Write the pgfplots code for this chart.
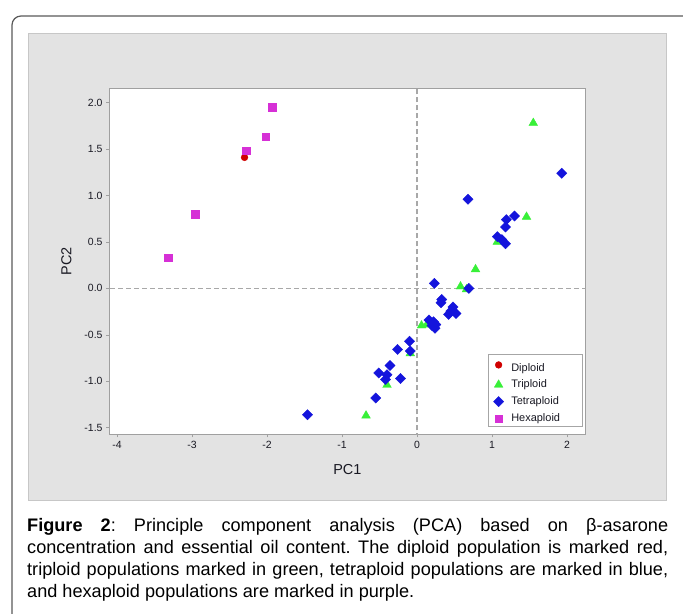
\documentclass[border=0pt]{standalone}
\usepackage{pgfplots}
\pgfplotsset{compat=1.18}
\usepackage{fontspec}
\setmainfont{Liberation Sans}
\definecolor{dipred}{RGB}{208,0,0}
\definecolor{trigreen}{RGB}{56,240,56}
\definecolor{tetblue}{RGB}{20,20,220}
\definecolor{hexmag}{RGB}{214,48,214}
\definecolor{panelgray}{RGB}{227,227,227}
\definecolor{axgray}{RGB}{160,160,160}
\definecolor{dashgray}{RGB}{168,168,168}
\definecolor{ticktext}{RGB}{25,25,35}
\pgfplotstableread{
x y
-2.30 1.41
}\diploid
\pgfplotstableread{
x y
1.55 1.78
1.46 0.77
1.07 0.50
0.78 0.205
0.58 0.02
0.66 -0.01
0.06 -0.40
0.13 -0.39
-0.09 -0.70
-0.40 -1.04
-0.68 -1.37
}\triploid
\pgfplotstableread{
x y
1.93 1.24
0.68 0.96
1.30 0.78
1.19 0.74
1.18 0.66
1.07 0.557
1.13 0.525
1.18 0.48
0.23 0.054
0.69 0.0
0.33 -0.12
0.32 -0.154
0.48 -0.20
0.45 -0.245
0.52 -0.27
0.42 -0.28
0.16 -0.34
0.22 -0.36
0.25 -0.39
0.24 -0.43
0.20 -0.40
-0.10 -0.57
-0.26 -0.657
-0.09 -0.675
-0.36 -0.83
-0.51 -0.91
-0.40 -0.93
-0.42 -0.98
-0.22 -0.97
-0.55 -1.18
-1.46 -1.36
}\tetraploid
\pgfplotstableread{
x y
-1.93 1.95
-2.02 1.63
-2.28 1.48
-2.96 0.80
-3.32 0.33
}\hexaploid
\newcommand{\lgt}[1]{\makebox[64bp][l]{#1}}
\begin{document}
\begin{tikzpicture}[x=1bp,y=1bp]
\useasboundingbox (0,0) rectangle (683,614);
\begin{scope}
\clip (0,0) rectangle (683,614);
\draw[line width=1.2bp, black!65, rounded corners=9bp] (12,-20) -- (12,598) -- (720,598);
\end{scope}
\filldraw[fill=panelgray, draw=black!22, line width=0.8bp] (28,114) rectangle (666,581);
\begin{axis}[
  at={(109bp,179.5bp)}, anchor=south west,
  scale only axis, width=476.7bp, height=346bp,
  xmin=-4.107, xmax=2.249, ymin=-1.573, ymax=2.152,
  axis background/.style={fill=white},
  axis line style={axgray, line width=0.9bp},
  tick pos=left, tick align=outside, major tick length=3bp,
  tick style={axgray, line width=0.6bp},
  xtick={-4,-3,-2,-1,0,1,2},
  ytick={-1.5,-1,-0.5,0,0.5,1,1.5,2},
  /pgf/number format/assume math mode=true,
  yticklabel style={/pgf/number format/.cd, fixed, fixed zerofill, precision=1},
  tick label style={font=\fontsize{10.5}{10.5}\selectfont, text=ticktext},
  xlabel={PC1}, ylabel={PC2},
  xlabel style={at={(axis description cs:0.5,-0.101)}, anchor=center, font=\fontsize{14.5}{14.5}\selectfont, text=ticktext},
  ylabel style={at={(axis description cs:-0.0896,0.5)}, anchor=center, rotate=0, font=\fontsize{14.5}{14.5}\selectfont, text=ticktext},
  legend style={at={(0.9933,0.0236)}, anchor=south east, draw=black!35, fill=white,
    font=\fontsize{11}{11}\selectfont, text=ticktext, row sep=3.4bp, inner xsep=5bp, inner ysep=1bp},
  legend cell align=left,
  legend image code/.code={\path (0bp,0bp) (16bp,0bp); \draw[#1] plot coordinates {(5.5bp,0bp)};},
  clip=true,
]
\addplot[dashgray, dash pattern=on 5bp off 3bp, line width=1.3bp, forget plot] coordinates {(0,-1.7) (0,2.3)};
\addplot[dashgray, dash pattern=on 5bp off 3bp, line width=1.3bp, forget plot] coordinates {(-4.2,0) (2.3,0)};
\addplot[only marks, mark=*, mark size=3.4bp, color=dipred] table {\diploid};
\addlegendentry{\rule{0pt}{14bp}\lgt{Diploid}}
\addplot[only marks, mark=triangle*, mark size=5bp, color=trigreen] table {\triploid};
\addlegendentry{\lgt{Triploid}}
\addplot[only marks, mark=square*, mark options={rotate=45}, mark size=3.6bp, color=tetblue] table {\tetraploid};
\addlegendentry{\lgt{Tetraploid}}
\addplot[only marks, mark=square*, mark size=3.7bp, color=hexmag] table {\hexaploid};
\addlegendentry{\lgt{Hexaploid}}
\end{axis}
\node[anchor=north west, inner sep=0pt, text width=641bp, align=justify, font=\fontsize{18.2}{22}\selectfont] at (27,96)
{\frenchspacing\fontdimen4\font=0pt \hyphenpenalty=10000 \exhyphenpenalty=10000 \tolerance=10000 \textbf{Figure 2}: Principle component analysis (PCA) based on β-asarone\linebreak concentration and essential oil content. The diploid population is marked red,\linebreak triploid populations marked in green, tetraploid populations are marked in blue,\linebreak and hexaploid populations are marked in purple.\par};
\end{tikzpicture}
\end{document}
